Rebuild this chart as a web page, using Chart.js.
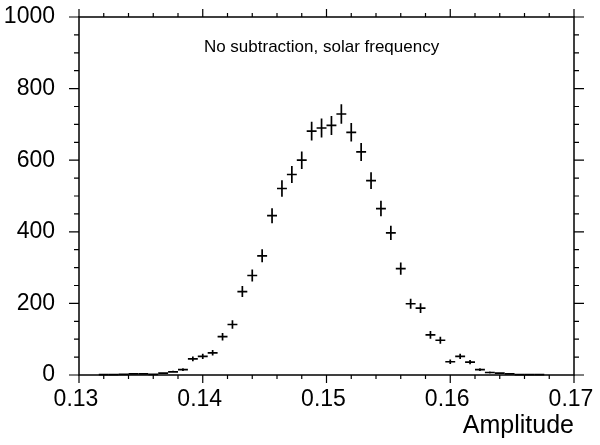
<!DOCTYPE html>
<html>
<head>
<meta charset="utf-8">
<script src="https://cdn.jsdelivr.net/npm/chart.js@4/dist/chart.umd.min.js"></script>
<style>
  html, body { margin: 0; padding: 0; background: #fff; }
</style>
</head>
<body>
<canvas id="myChart" width="600" height="445"></canvas>
<script>
// histogram: 50 bins from 0.13 to 0.17
const xMin = 0.13;
const xMax = 0.17;
const binWidth = 0.0008;
const counts = [
  0, 0, 1, 1, 2, 3, 3, 2, 5, 9,
  15, 45, 52, 62, 107, 141, 233, 278, 333, 445,
  521, 560, 600, 681, 690, 697, 729, 678, 623, 543,
  465, 397, 297, 199, 187, 112, 97, 37, 52, 36,
  15, 7, 5, 3, 1, 1, 1, 0, 0, 0
];
const xTickLabels = ['0.13', '0.14', '0.15', '0.16', '0.17'];
const yTickLabels = ['0', '200', '400', '600', '800', '1000'];
const xTitle = 'Amplitude';
const noteText = 'No subtraction, solar frequency';

const points = counts.map((c, i) => ({ x: xMin + binWidth * (i + 0.5), y: c }));
const font = '"Liberation Sans", Arial, sans-serif';

// error crosses: bin width horizontally, sqrt(N) vertically
const crosses = {
  id: 'crosses',
  afterDatasetsDraw(chart) {
    const { ctx, scales: { x, y } } = chart;
    ctx.save();
    ctx.strokeStyle = '#000';
    ctx.lineWidth = 1.7;
    chart.data.datasets[0].data.forEach(p => {
      if (p.y <= 0) return;
      const err = Math.sqrt(p.y);
      const px = x.getPixelForValue(p.x);
      const py = y.getPixelForValue(p.y);
      ctx.beginPath();
      ctx.moveTo(x.getPixelForValue(p.x - binWidth / 2), py);
      ctx.lineTo(x.getPixelForValue(p.x + binWidth / 2), py);
      ctx.moveTo(px, y.getPixelForValue(p.y - err));
      ctx.lineTo(px, y.getPixelForValue(p.y + err));
      ctx.stroke();
    });
    ctx.restore();
  }
};

// frame with outward ticks on all four sides, plus the text note
const frame = {
  id: 'frame',
  afterDraw(chart) {
    const { ctx, chartArea: a, scales: { x, y } } = chart;
    ctx.save();
    ctx.strokeStyle = '#000';
    ctx.lineWidth = 1.5;
    ctx.strokeRect(a.left, a.top, a.right - a.left, a.bottom - a.top);
    ctx.lineWidth = 1.2;
    ctx.beginPath();
    for (let i = 0; i <= 20; i++) {
      const px = x.getPixelForValue(xMin + i * 0.002);
      const len = i % 5 === 0 ? 8 : 4;
      ctx.moveTo(px, a.bottom); ctx.lineTo(px, a.bottom + len);
      ctx.moveTo(px, a.top); ctx.lineTo(px, a.top - len);
    }
    for (let i = 0; i <= 20; i++) {
      const py = y.getPixelForValue(i * 50);
      const len = i % 4 === 0 ? 10 : 5;
      ctx.moveTo(a.left, py); ctx.lineTo(a.left - len, py);
      ctx.moveTo(a.right, py); ctx.lineTo(a.right + len, py);
    }
    ctx.stroke();
    ctx.fillStyle = '#000';
    ctx.font = '17px ' + font;
    ctx.textAlign = 'center';
    ctx.textBaseline = 'middle';
    ctx.fillText(noteText, x.getPixelForValue(0.1496), y.getPixelForValue(915));
    ctx.restore();
  }
};

const ctx = document.getElementById('myChart');
new Chart(ctx, {
  type: 'scatter',
  data: {
    datasets: [{
      data: points,
      pointRadius: 0,
      showLine: false
    }]
  },
  options: {
    responsive: false,
    animation: false,
    devicePixelRatio: 1,
    layout: { padding: { top: 17, right: 26, left: 0, bottom: 0 } },
    plugins: { legend: { display: false }, tooltip: { enabled: false } },
    scales: {
      x: {
        type: 'linear',
        min: xMin,
        max: xMax,
        grid: { display: false },
        border: { display: false },
        afterFit: s => { s.height = 70; s.paddingLeft = 0; s.paddingRight = 0; },
        ticks: {
          stepSize: 0.01,
          autoSkip: false,
          maxRotation: 0,
          padding: 3,
          labelOffset: -3,
          color: '#000',
          font: { family: font, size: 23 },
          callback: (v, i) => xTickLabels[i]
        },
        title: {
          display: true,
          text: xTitle,
          align: 'end',
          color: '#000',
          font: { family: font, size: 25 },
          padding: { top: 0, bottom: 4 }
        }
      },
      y: {
        min: 0,
        max: 1000,
        grid: { display: false },
        border: { display: false },
        afterFit: s => { s.width = 79; s.paddingTop = 0; s.paddingBottom = 0; },
        ticks: {
          stepSize: 200,
          padding: 16,
          color: '#000',
          font: { family: font, size: 23 },
          callback: (v, i) => yTickLabels[i]
        }
      }
    }
  },
  plugins: [crosses, frame]
});
</script>
</body>
</html>
